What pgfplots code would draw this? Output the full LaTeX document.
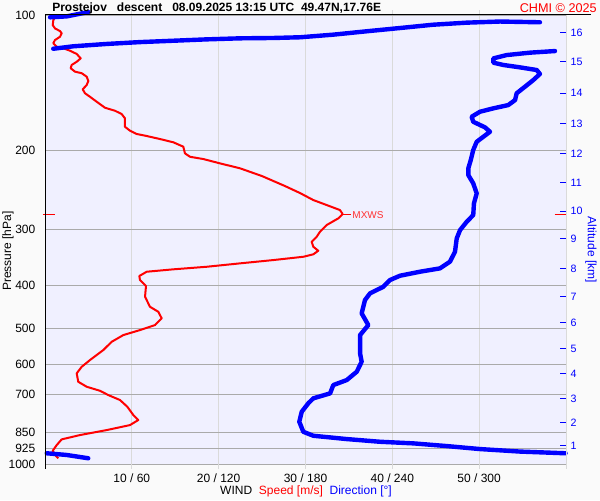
\documentclass[border=0pt]{standalone}
\usepackage{pgfplots}
\pgfplotsset{compat=1.18}
\usepackage{fontspec}
\setmainfont{Liberation Sans}
\definecolor{outerbg}{RGB}{250,250,250}
\definecolor{plotbg}{RGB}{240,240,255}
\definecolor{gridlight}{RGB}{218,218,218}
\definecolor{griddark}{RGB}{170,170,170}
\definecolor{wblue}{RGB}{0,0,255}
\definecolor{wred}{RGB}{255,0,0}
\begin{document}
\begin{tikzpicture}
\fill[outerbg] (0,0) rectangle (450pt,375pt);
\useasboundingbox (0,0) rectangle (450pt,375pt);
% ---------- speed axis ----------
\begin{axis}[
  at={(229.125pt,195.375pt)}, anchor=center,
  width=390.75pt, height=336.75pt, scale only axis,
  xmin=0, xmax=60, ymin=100, ymax=1000,
  ymode=log, y dir=reverse,
  axis background/.style={fill=plotbg},
  axis line style={draw=none},
  xtick={10,20,30,40,50},
  xticklabels={10 / 60,20 / 120,30 / 180,40 / 240,50 / 300},
  ytick={100,200,300,400,500,600,700,850,925,1000},
  yticklabels={100,200,300,400,500,600,700,850,925,1000},
  yminorticks=false, xminorticks=false,
  xmajorgrids, ymajorgrids,
  x grid style={color=gridlight, line width=0.75pt},
  y grid style={color=griddark, line width=0.75pt},
  ytick style={draw=none},
  xtick style={color=gridlight, line width=0.75pt},
  tick align=outside, major tick length=3.75pt,
  tick label style={font=\fontsize{9}{10}\selectfont, text=black},
  clip=false,
]
\addplot[wred, line width=1.5pt, line join=round] coordinates {
(1.35,99.8) (0.96,102.6) (0.89,105.3) (1.15,107.1) (1.73,108.6) (1.92,109.8) (1.73,111.8) (1.15,113.7) (0.96,115.6) (1.35,117.7) (2.11,118.6) (2.88,120.1) (3.65,122.1) (4.11,124.9) (3.65,127.1) (3.07,129.2) (2.96,131.4) (3.45,133.7) (4.23,134.8) (4.80,137.2) (4.99,140.3) (4.80,143.2) (4.34,146.4) (4.61,149.4) (5.18,152.1) (5.95,156.0) (6.91,160.9) (8.06,163.4) (8.83,166.2) (9.21,169.9) (9.21,177.4) (9.79,181.0) (10.56,184.1) (11.71,186.0) (13.24,188.9) (14.78,192.1) (15.93,196.5) (16.12,203.3) (16.70,206.9) (18.23,209.3) (20.15,214.0) (22.46,219.5) (24.99,228.4) (27.64,240.4) (29.37,249.2) (30.90,258.3) (32.44,265.0) (33.97,271.9) (34.28,277.5) (33.78,283.7) (32.44,293.6) (31.67,303.9) (31.29,311.8) (30.71,319.9) (30.90,328.2) (31.47,335.0) (30.90,341.2) (29.75,345.5) (26.29,351.4) (22.46,357.4) (18.62,363.7) (14.78,368.5) (11.71,373.1) (10.86,381.4) (10.94,389.3) (11.63,401.5) (11.52,424.1) (12.09,446.5) (13.05,458.1) (13.44,473.8) (12.67,490.4) (10.94,503.1) (9.02,516.2) (7.68,534.3) (6.71,557.5) (5.18,586.8) (4.23,607.3) (3.65,628.2) (3.83,655.9) (4.80,672.9) (6.33,686.9) (7.29,702.2) (8.64,720.4) (9.48,745.6) (10.17,778.0) (10.74,798.2) (9.79,819.0) (7.11,840.2) (4.03,862.0) (1.92,881.3) (1.35,907.4) (0.89,934.3) (1.15,954.7) (1.53,971.0)
};
% MXWS marker
\draw[wred, line width=0.75pt] (axis cs:34.28,278.5) -- (axis cs:35.2,278.5)
  node[anchor=west, inner sep=1pt, font=\fontsize{7.5}{8}\selectfont, text=wred!80!white] {MXWS};
\draw[wred, line width=0.75pt] (axis cs:-0.25,278.5) -- (axis cs:1.15,278.5);
\draw[wred, line width=0.75pt] (axis cs:58.7,278.5) -- (axis cs:60,278.5);
\end{axis}
% ---------- direction axis ----------
\begin{axis}[
  at={(229.125pt,195.375pt)}, anchor=center,
  width=390.75pt, height=336.75pt, scale only axis,
  xmin=0, xmax=360, ymin=100, ymax=1000,
  ymode=log, y dir=reverse,
  axis line style={draw=none},
  xtick=\empty,
  ytick pos=right, yticklabel pos=right,
  ytick={109.3,127.1,149.4,174.3,203.3,236.0,273.3,315.0,366.7,424.1,484.5,552.7,628.2,715.6,807.7,910.7},
  yticklabels={16,15,14,13,12,11,10,9,8,7,6,5,4,3,2,1},
  yminorticks=false,
  tick align=inside, major tick length=4.5pt,
  ytick style={color=wblue, line width=0.75pt},
  yticklabel style={font=\fontsize{8}{9}\selectfont, text=wblue},
  clip=false,
]
\addplot[wblue, line width=3.3pt, line join=round, line cap=round] coordinates {
(29.9,98.5) (15.0,100.7) (3.5,101.2)
};
\addplot[wblue, line width=3.3pt, line join=round, line cap=round] coordinates {
(342.0,103.8) (314.4,103.4) (291.4,104.0) (268.3,105.1) (245.3,106.9) (222.3,108.7) (199.2,110.6) (176.2,112.1) (157.8,112.5) (134.7,112.7) (111.7,113.3) (88.7,114.1) (65.6,114.9) (42.6,116.0) (19.6,117.4) (5.7,118.9)
};
\addplot[wblue, line width=3.3pt, line join=round, line cap=round] coordinates {
(352.4,120.3) (335.1,121.3) (319.0,122.8) (309.8,124.9) (309.8,127.7) (316.7,129.2) (328.2,130.8) (339.8,132.6) (342.0,135.3) (337.4,139.6) (331.7,144.4) (325.9,149.4) (324.8,154.7) (320.1,158.7) (309.8,161.4) (300.6,164.2) (294.8,168.5) (295.9,172.9) (304.0,177.9) (307.5,182.0) (302.9,186.7) (298.3,191.6) (295.9,199.9) (294.2,210.4) (292.5,219.5) (292.5,227.2) (295.9,237.1) (298.3,249.6) (296.4,262.7) (295.9,279.0) (291.4,288.7) (286.8,301.3) (284.5,314.4) (283.3,336.7) (279.8,354.4) (272.9,366.7) (259.1,373.1) (245.3,380.8) (238.4,389.3) (233.8,402.9) (224.6,416.8) (221.1,431.4) (218.8,461.8) (223.4,490.4) (217.7,516.2) (217.7,543.2) (217.7,567.0) (218.8,591.9) (215.4,623.1) (208.5,650.2) (199.2,667.1) (197.0,696.1) (185.4,714.1) (181.9,732.7) (177.4,765.0) (175.7,805.2) (178.5,847.6) (185.4,865.1) (208.5,879.9) (231.5,892.2) (254.5,899.5) (277.6,912.1) (300.6,926.2) (328.2,938.2) (359.7,946.4)
};
\addplot[wblue, line width=3.3pt, line join=round, line cap=round] coordinates {
(1.2,946.4) (15.0,954.7) (29.9,971.0)
};
\end{axis}
% ---------- frame and texts (pixel coordinates) ----------
\begin{scope}[x=0.75pt, y=-0.75pt, yshift=375pt]
\draw[black, line width=0.75pt] (45,15) -- (591,15);
\draw[black, line width=0.75pt] (45,15) -- (45,469);
\draw[gridlight, line width=0.75pt] (566,15) -- (566,469);
\node[anchor=west, inner sep=0pt, font=\bfseries\fontsize{9}{11}\selectfont] at (52,8)
  {Prostejov\ \ \ descent\ \ \ 08.09.2025 13:15 UTC\ \ 49.47N,17.76E};
\node[anchor=east, inner sep=0pt, font=\fontsize{9.5}{11}\selectfont, text=wred] at (597,8) {CHMI © 2025};
\node[anchor=center, inner sep=0pt, font=\fontsize{9}{11}\selectfont] at (306,491)
  {WIND\ \ \textcolor{wred}{Speed [m/s]}\ \ \textcolor{wblue}{Direction [°]}};
\node[anchor=center, inner sep=0pt, rotate=90, font=\fontsize{9}{11}\selectfont] at (8,251) {Pressure [hPa]};
\node[anchor=center, inner sep=0pt, rotate=-90, font=\fontsize{9}{11}\selectfont, text=wblue] at (591,250) {Altitude [km]};
\end{scope}
\end{tikzpicture}
\end{document}
